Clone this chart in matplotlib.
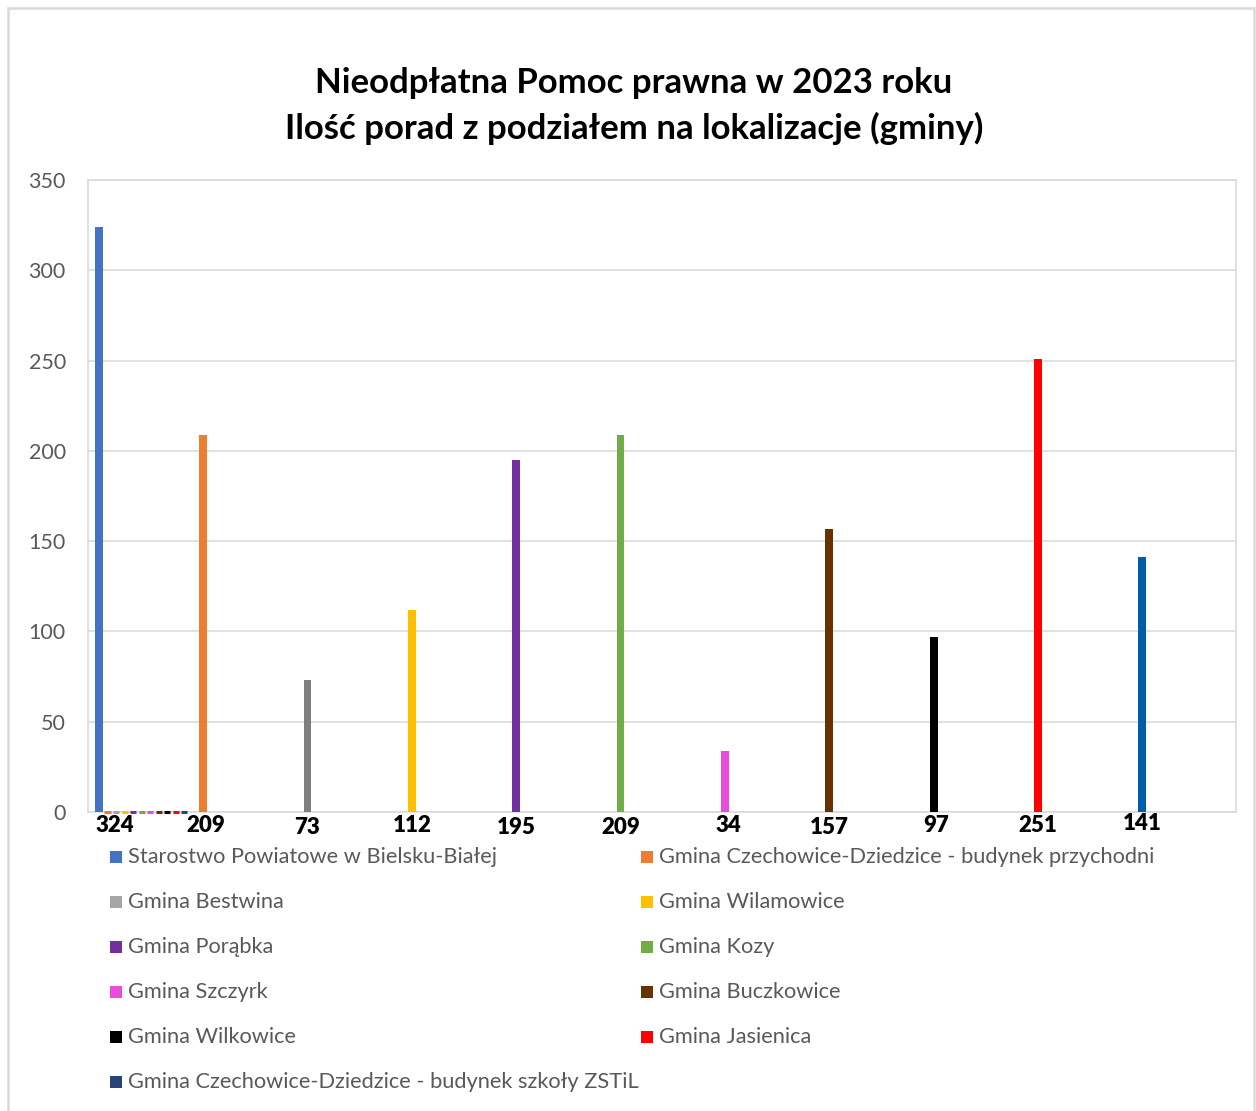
import matplotlib
matplotlib.use("Agg")
import matplotlib.pyplot as plt
from matplotlib.patches import Rectangle
from matplotlib.transforms import blended_transform_factory, ScaledTranslation

# ---------------- data ----------------
title_lines = ["Nieodpłatna Pomoc prawna w 2023 roku",
               "Ilość porad z podziałem na lokalizacje (gminy)"]
series_names = [
    "Starostwo Powiatowe w Bielsku-Białej",
    "Gmina Czechowice-Dziedzice - budynek przychodni",
    "Gmina Bestwina",
    "Gmina Wilamowice",
    "Gmina Porąbka",
    "Gmina Kozy",
    "Gmina Szczyrk",
    "Gmina Buczkowice",
    "Gmina Wilkowice",
    "Gmina Jasienica",
    "Gmina Czechowice-Dziedzice - budynek szkoły ZSTiL",
]
values = [324, 209, 73, 112, 195, 209, 34, 157, 97, 251, 141]
category_labels = ["324", "209", "73", "112", "195", "209", "34", "157", "97", "251", "141"]
legend_colors = ["#4472C4", "#ED7D31", "#A5A5A5", "#FFC000", "#7030A0", "#70AD47",
                 "#E84CDB", "#663300", "#000000", "#FF0000", "#264478"]
bar_colors = ["#4472C4", "#ED7D31", "#7F7F7F", "#FFC000", "#7030A0", "#70AD47",
              "#E84CDB", "#663300", "#000000", "#FF0000", "#005EA8"]
y_ticks = [0, 50, 100, 150, 200, 250, 300, 350]

# ---------------- style ----------------
FONT = "Lato"
W, H, DPI = 1256, 1111, 100
bar_w = 0.075
group_start = -0.435
label_dx_px = [16, 3, 0, 0, 0, 0, 3, 0, 3, 0, 0]
label_y_px = [825, 825, 827, 826, 828, 828, 826, 827, 825, 826, 824]
grid_c = "#D9D9D9"
text_c = "#595959"

fig = plt.figure(figsize=(W / DPI, H / DPI), dpi=DPI)
fig.patch.set_facecolor("white")

# outer chart border
fig.patches.append(Rectangle((8 / W, -0.01), (1254 - 8) / W, 1 - 8 / H + 0.01,
                             transform=fig.transFigure, fill=False,
                             edgecolor=grid_c, linewidth=1.8))

ax = fig.add_axes([88 / W, 1 - 812 / H, (1236 - 88) / W, (812 - 180) / H])
n = len(values)
ax.set_xlim(-0.5, n - 0.5)
ax.set_ylim(0, 350)

# main bars: each series sits in first slot of its category
xs = [i + group_start + bar_w / 2 for i in range(n)]
ax.bar(xs, values, width=bar_w, color=bar_colors, zorder=3)
# zero-value bars of the other series in the first category
zx = [group_start + (bar_w * 1.09) * (j + 0.5) for j in range(1, n)]
zb = ax.bar(zx, [0] * (n - 1), width=bar_w * 0.8, color=legend_colors[1:],
            edgecolor=legend_colors[1:], linewidth=2.2, zorder=4)
for p in zb:
    p.set_clip_on(False)

ax.set_yticks(y_ticks)
ax.set_yticklabels([str(t) for t in y_ticks], fontsize=15.5, color=text_c, family=FONT)
ax.tick_params(axis="y", length=0, pad=16)
ax.set_xticks([])
ax.grid(axis="y", color=grid_c, linewidth=1.1, zorder=0)
for s in ax.spines.values():
    s.set_color(grid_c)
    s.set_linewidth(1.1)

# value labels below axis
trans = blended_transform_factory(ax.transData, fig.transFigure)
for i in range(n):
    t = trans + ScaledTranslation(label_dx_px[i] / DPI, 0, fig.dpi_scale_trans)
    ax.text(xs[i], 1 - label_y_px[i] / H, category_labels[i], transform=t,
            ha="center", va="center", fontsize=16, fontweight="heavy",
            color="black", family=FONT, clip_on=False)

# title
fig.text(634 / W, 1 - 83 / H, title_lines[0], ha="center", va="center",
         fontsize=25, fontweight="bold", family=FONT)
fig.text(634 / W, 1 - 128 / H, title_lines[1], ha="center", va="center",
         fontsize=25, fontweight="bold", family=FONT)

# legend (2 columns, row-major)
col_x = [110, 641]
for i, name in enumerate(series_names):
    r, c = divmod(i, 2)
    yc = 857 + 45 * r
    fig.patches.append(Rectangle((col_x[c] / W, 1 - (yc + 6) / H), 12 / W, 12 / H,
                                 transform=fig.transFigure, facecolor=legend_colors[i],
                                 edgecolor="none"))
    fig.text((col_x[c] + 18) / W, 1 - yc / H, name, ha="left", va="center",
             fontsize=15.7, color=text_c, family=FONT)

fig.savefig("out.png", dpi=DPI)
